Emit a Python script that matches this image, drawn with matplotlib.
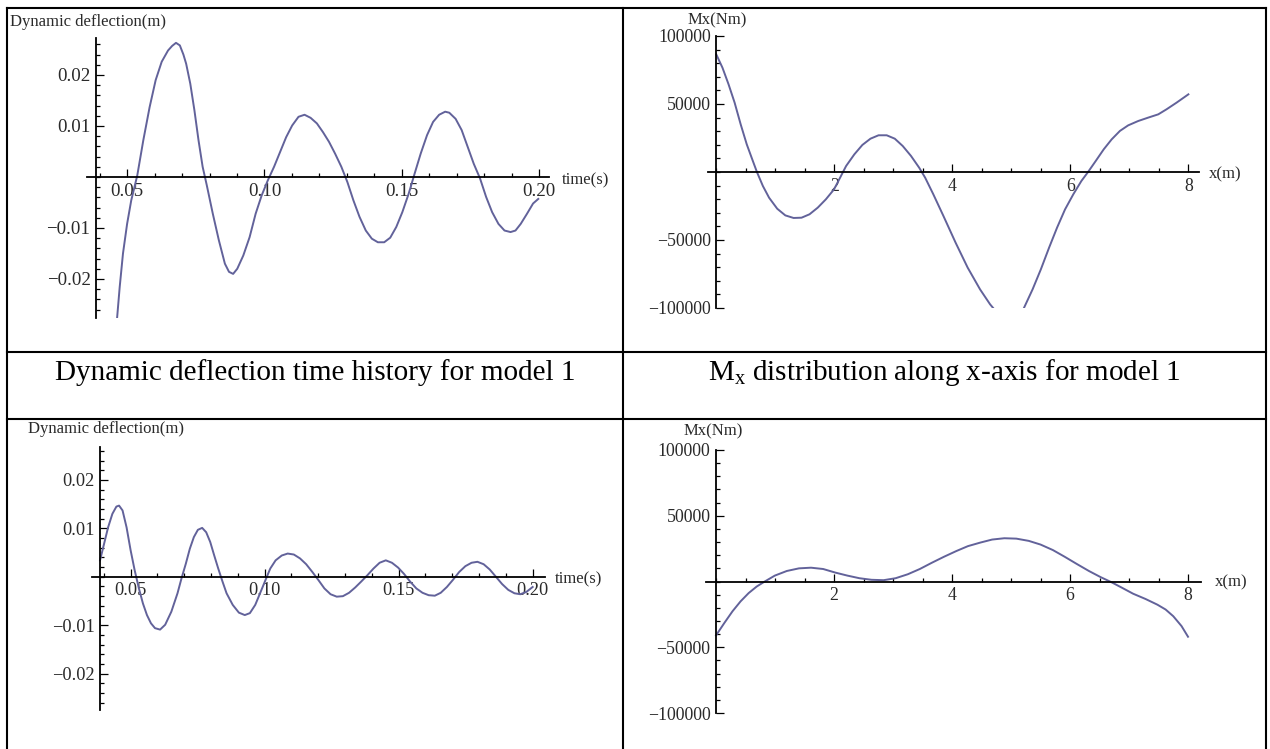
import matplotlib
matplotlib.use("Agg")
import matplotlib.pyplot as plt
from matplotlib.lines import Line2D
from matplotlib.ticker import MultipleLocator, FixedLocator, FuncFormatter
import numpy as np

plt.rcParams['font.family'] = ['Liberation Serif', 'DejaVu Serif']
plt.rcParams['mathtext.fontset'] = 'custom'
plt.rcParams['mathtext.rm'] = 'Liberation Serif'
plt.rcParams['mathtext.it'] = 'Liberation Serif:italic'

# ---------------- data ----------------
# Model 1 top-left: dynamic deflection (m) vs time (s)
t1 = [0.0463, 0.0473, 0.0485, 0.0500, 0.0515, 0.0537, 0.0559, 0.0582, 0.0604, 0.0626,
      0.0649, 0.0664, 0.0678, 0.0692, 0.0705, 0.0715, 0.0730, 0.0745, 0.0760, 0.0775, 0.0790,
      0.0812, 0.0834, 0.0856, 0.0871, 0.0886, 0.0901, 0.0923, 0.0946, 0.0968, 0.0990,
      0.1012, 0.1035, 0.1057, 0.1079, 0.1101, 0.1124, 0.1146, 0.1168, 0.1191, 0.1213,
      0.1235, 0.1257, 0.1280, 0.1302, 0.1324, 0.1346, 0.1369, 0.1391, 0.1413, 0.1436,
      0.1458, 0.1480, 0.1502, 0.1525, 0.1547, 0.1569, 0.1592, 0.1614, 0.1636, 0.1658,
      0.1673, 0.1696, 0.1718, 0.1740, 0.1762, 0.1785, 0.1807, 0.1829, 0.1852, 0.1874,
      0.1896, 0.1914, 0.1933, 0.1956, 0.1978, 0.1997]
d1 = [-0.0280, -0.0216, -0.0150, -0.0092, -0.0046, 0.0003, 0.0072, 0.0137, 0.0190, 0.0226,
      0.0248, 0.0257, 0.0263, 0.0258, 0.0240, 0.0222, 0.0183, 0.0131, 0.0072, 0.0020, -0.0016,
      -0.0072, -0.0124, -0.0170, -0.0186, -0.0190, -0.0180, -0.0154, -0.0118, -0.0072, -0.0036,
      -0.0007, 0.0020, 0.0049, 0.0078, 0.0101, 0.0118, 0.0122, 0.0116, 0.0105, 0.0088,
      0.0069, 0.0046, 0.0020, -0.0010, -0.0046, -0.0078, -0.0105, -0.0121, -0.0128, -0.0128,
      -0.0119, -0.0098, -0.0069, -0.0033, 0.0007, 0.0046, 0.0082, 0.0108, 0.0122, 0.0128,
      0.0126, 0.0114, 0.0092, 0.0059, 0.0026, -0.0003, -0.0039, -0.0069, -0.0092, -0.0105,
      -0.0108, -0.0105, -0.0092, -0.0072, -0.0052, -0.0043]

# Model 1 top-right: Mx (Nm) vs x (m); NaN where the curve leaves the plot range
x1 = [0.00, 0.105, 0.208, 0.311, 0.414, 0.517, 0.620, 0.689, 0.79, 0.895,
      1.033, 1.17, 1.31, 1.445, 1.58, 1.72, 1.857, 1.995, 2.098, 2.20,
      2.34, 2.476, 2.613, 2.75, 2.888, 3.025, 3.16, 3.30, 3.438, 3.54,
      3.678, 3.85, 4.056, 4.26, 4.47, 4.64, 4.75, 4.95,
      5.19, 5.36, 5.50, 5.64, 5.775, 5.91, 6.05, 6.187, 6.30, 6.43,
      6.566, 6.70, 6.84, 6.98, 7.15, 7.32, 7.49, 7.63, 7.80, 8.00]
m1 = [86500, 76700, 64500, 51000, 35000, 20300, 8100, 0, -10300, -18900,
      -27000, -31900, -33800, -33600, -31100, -26200, -20100, -12800, -4200, 4400,
      13000, 19900, 24500, 27000, 27000, 24500, 19100, 11800, 3200, -4200,
      -16400, -32400, -52000, -70300, -86300, -97300, -103000, np.nan,
      -102200, -86300, -71600, -55600, -40900, -27500, -16400, -6600, 0, 8100,
      16700, 24000, 30200, 34300, 37500, 40000, 42400, 46100, 51000, 57100]

# Model 2 bottom-left: dynamic deflection (m) vs time (s)
t2 = [0.0386, 0.0401, 0.0416, 0.0432, 0.0447, 0.0457, 0.0470, 0.0485, 0.0500, 0.0515,
      0.0531, 0.0546, 0.0561, 0.0576, 0.0591, 0.0610, 0.0629, 0.0652, 0.0675, 0.0690,
      0.0706, 0.0721, 0.0736, 0.0751, 0.0767, 0.0782, 0.0797, 0.0812, 0.0827, 0.0843,
      0.0858, 0.0881, 0.0904, 0.0926, 0.0945, 0.0965, 0.0983, 0.1003, 0.1021, 0.1041,
      0.1064, 0.1086, 0.1109, 0.1132, 0.1155, 0.1178, 0.1201, 0.1223, 0.1246, 0.1269,
      0.1292, 0.1315, 0.1338, 0.1360, 0.1383, 0.1406, 0.1429, 0.1452, 0.1475, 0.1498,
      0.1520, 0.1543, 0.1566, 0.1589, 0.1612, 0.1635, 0.1657, 0.1680, 0.1703, 0.1726,
      0.1749, 0.1772, 0.1794, 0.1817, 0.1840, 0.1863, 0.1886, 0.1909, 0.1932, 0.1954,
      0.1977, 0.2000]
d2 = [0.0034, 0.0068, 0.0102, 0.0130, 0.0145, 0.0147, 0.0137, 0.0102, 0.0055, 0.0014,
      -0.0024, -0.0055, -0.0079, -0.0096, -0.0106, -0.0109, -0.0099, -0.0072, -0.0034, -0.0003,
      0.0027, 0.0058, 0.0082, 0.0097, 0.0101, 0.0092, 0.0072, 0.0044, 0.0017, -0.0010,
      -0.0034, -0.0058, -0.0074, -0.0079, -0.0075, -0.0058, -0.0034, -0.0007, 0.0017, 0.0034,
      0.0044, 0.0048, 0.0046, 0.0038, 0.0026, 0.0010, -0.0007, -0.0024, -0.0036, -0.0041,
      -0.0040, -0.0033, -0.0022, -0.0010, 0.0003, 0.0017, 0.0029, 0.0034, 0.0029, 0.0019,
      0.0006, -0.0010, -0.0024, -0.0033, -0.0038, -0.0039, -0.0033, -0.0021, -0.0006, 0.0010,
      0.0022, 0.0029, 0.0031, 0.0026, 0.0015, 0.0000, -0.0015, -0.0027, -0.0034, -0.0036,
      -0.0031, -0.0021]

# Model 2 bottom-right: Mx (Nm) vs x (m)
x2 = [0.00, 0.143, 0.28, 0.416, 0.553, 0.69, 0.826, 0.997, 1.20, 1.406,
      1.61, 1.816, 2.02, 2.225, 2.43, 2.635, 2.84, 3.044, 3.25, 3.454,
      3.66, 3.863, 4.07, 4.27, 4.48, 4.68, 4.887, 5.09, 5.30, 5.50,
      5.71, 5.91, 6.116, 6.32, 6.52, 6.70, 6.87, 7.07, 7.28, 7.48,
      7.62, 7.75, 7.89, 8.00]
m2 = [-41000, -31400, -22600, -15100, -8800, -3800, 0, 4500, 8000, 10000,
      10500, 9500, 6800, 4500, 2500, 1300, 1000, 2500, 5500, 9500,
      14300, 18800, 23100, 26900, 29600, 31900, 32900, 32600, 30900, 28100,
      23900, 18800, 13300, 8000, 3300, -500, -4500, -9300, -13300, -17600,
      -21300, -26400, -33900, -42000]

time_ticks = [0.05, 0.10, 0.15, 0.20]
defl_ticks = [-0.02, -0.01, 0.01, 0.02]
x_ticks = [2, 4, 6, 8]
mx_ticks = [-100000, -50000, 50000, 100000]

captions = ["Dynamic deflection time history for model 1",
            r"M$_{\mathrm{x}}$ distribution along x-axis for model 1"]

# ---------------- figure ----------------
W, H = 1270, 749
fig = plt.figure(figsize=(W / 100, H / 100), dpi=100)
fig.patch.set_facecolor('white')


def fx(x):
    return x / W


def fy(y):
    return 1 - y / H


def axes_px(left, right, top, bottom):
    return fig.add_axes([fx(left), fy(bottom), (right - left) / W, (bottom - top) / H])


LINE_C = '#62629a'
TXT_C = '#2a2a2a'
LAB_FS = 12


def minus(s):
    return s.replace('-', '\u2212')


def style(ax, xlim, ylim, yaxis_at, xmaj, xmin, ymaj, ymin, xfmt, yfmt, fs):
    ax.set_xlim(xlim)
    ax.set_ylim(ylim)
    ax.patch.set_visible(False)
    for s in ['top', 'right']:
        ax.spines[s].set_visible(False)
    ax.spines['left'].set_position(('data', yaxis_at))
    ax.spines['bottom'].set_position(('data', 0))
    for s in ['left', 'bottom']:
        ax.spines[s].set_linewidth(1.3)
        ax.spines[s].set_color('black')
    ax.xaxis.set_major_locator(FixedLocator(xmaj))
    ax.xaxis.set_minor_locator(MultipleLocator(xmin))
    ax.yaxis.set_major_locator(FixedLocator(ymaj))
    ax.yaxis.set_minor_locator(MultipleLocator(ymin))
    ax.xaxis.set_major_formatter(FuncFormatter(xfmt))
    ax.yaxis.set_major_formatter(FuncFormatter(yfmt))
    ax.tick_params(which='both', direction='in', colors='black', labelcolor=TXT_C,
                   labelsize=fs, width=0.9, pad=4)
    ax.tick_params(which='major', length=5.5)
    ax.tick_params(which='minor', length=2.8)


tfmt = lambda v, _: f"{v:.2f}"
dfmt = lambda v, _: minus(f"{v:.2f}")
xfmt = lambda v, _: f"{int(round(v))}"
mfmt = lambda v, _: minus(f"{int(round(v))}")

# top-left
ax1 = axes_px(87, 549, 38, 318)
style(ax1, (0.0354, 0.2036), (-0.02765, 0.02725), 0.0387,
      time_ticks, 0.01, defl_ticks, 0.002, tfmt, dfmt, 13.6)
ax1.plot(t1, d1, color=LINE_C, lw=1.4)

# top-right
ax2 = axes_px(708, 1199, 36, 308)
style(ax2, (-0.14, 8.18), (-100000, 100000), 0.0,
      x_ticks, 0.5, mx_ticks, 10000, xfmt, mfmt, 12.8)
ax2.plot(x1, m1, color=LINE_C, lw=1.4)

# bottom-left
ax3 = axes_px(92, 545, 447, 710)
style(ax3, (0.0356, 0.2046), (-0.0275, 0.0268), 0.0386,
      time_ticks, 0.01, defl_ticks, 0.002, tfmt, dfmt, 13.2)
ax3.plot(t2, d2, color=LINE_C, lw=1.4)

# bottom-right
ax4 = axes_px(706, 1201, 450, 713)
style(ax4, (-0.17, 8.22), (-100000, 100000), 0.0,
      x_ticks, 0.5, mx_ticks, 10000, xfmt, mfmt, 12.8)
ax4.plot(x2, m2, color=LINE_C, lw=1.4)

# axis labels
lab = dict(fontsize=LAB_FS, color=TXT_C, va='center')
fig.text(fx(10), fy(22), "Dynamic deflection(m)", ha='left', **lab)
fig.text(fx(562), fy(180), "time(s)", ha='left', **lab)
fig.text(fx(717), fy(20), "Mx(Nm)", ha='center', **lab)
fig.text(fx(1209), fy(174), "x(m)", ha='left', **lab)
fig.text(fx(28), fy(429), "Dynamic deflection(m)", ha='left', **lab)
fig.text(fx(555), fy(579), "time(s)", ha='left', **lab)
fig.text(fx(713), fy(431), "Mx(Nm)", ha='center', **lab)
fig.text(fx(1215), fy(582), "x(m)", ha='left', **lab)

# captions
fig.text(fx(315), fy(380), captions[0], ha='center', va='baseline', fontsize=21, color='black')
fig.text(fx(944), fy(380), captions[1], ha='center', va='baseline', fontsize=21, color='black')

# table borders
def hline(y, x0=7, x1=1266):
    fig.add_artist(Line2D([fx(x0), fx(x1)], [fy(y), fy(y)], transform=fig.transFigure,
                          color='black', lw=1.5))


def vline(x, y0=7.5, y1=749):
    fig.add_artist(Line2D([fx(x), fx(x)], [fy(y0), fy(y1)], transform=fig.transFigure,
                          color='black', lw=1.5))


hline(7.5)
hline(352)
hline(419)
vline(7)
vline(623)
vline(1266)

fig.savefig("out.png", dpi=100, facecolor='white')
